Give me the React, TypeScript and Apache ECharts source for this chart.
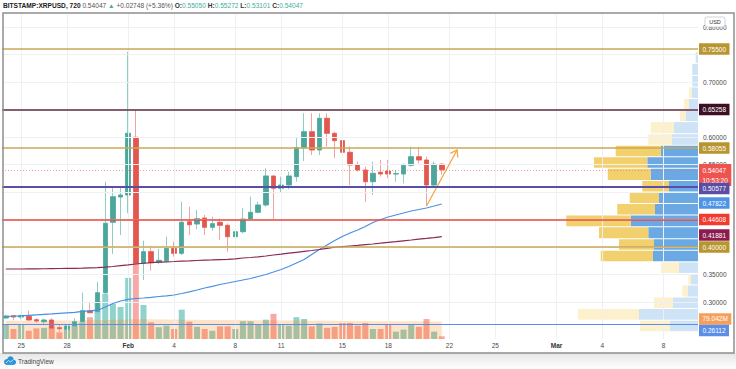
import React, { useEffect, useRef } from "react";
import * as echarts from "echarts";

const FONT = "Liberation Sans, Arial, sans-serif";

// ---- time slots (12h candles) ----
const START_UTC = Date.UTC(2021, 0, 24, 0, 0);
const SLOT_COUNT = 91;
const pad2 = (n: number) => String(n).padStart(2, "0");
const categories: string[] = [];
for (let i = 0; i < SLOT_COUNT; i++) {
  const d = new Date(START_UTC + i * 12 * 3600 * 1000);
  categories.push(`${d.getUTCFullYear()}-${pad2(d.getUTCMonth() + 1)}-${pad2(d.getUTCDate())} ${pad2(d.getUTCHours())}:00`);
}

const xTickDates = ["2021-01-25 00:00", "2021-01-28 00:00", "2021-02-01 00:00", "2021-02-04 00:00", "2021-02-08 00:00", "2021-02-11 00:00", "2021-02-15 00:00", "2021-02-18 00:00", "2021-02-22 00:00", "2021-02-25 00:00", "2021-03-01 00:00", "2021-03-04 00:00", "2021-03-08 00:00"];
const xTickLabels = ["25", "28", "Feb", "4", "8", "11", "15", "18", "22", "25", "Mar", "4", "8"];

const priceTicks = [0.3, 0.35, 0.4, 0.45, 0.5, 0.55, 0.6, 0.65, 0.7, 0.75, 0.8];

// ---- OHLC ----
const opens = [0.2709, 0.2751, 0.2727, 0.2740, 0.2678, 0.2642, 0.2673, 0.2533, 0.2504, 0.2564, 0.2642, 0.2842, 0.2824, 0.3169, 0.4449, 0.4909, 0.4945, 0.5995, 0.3703, 0.3915, 0.3722, 0.3751, 0.3976, 0.3885, 0.4460, 0.4418, 0.4527, 0.4358, 0.4449, 0.4394, 0.4187, 0.4278, 0.4509, 0.4631, 0.4764, 0.5291, 0.5067, 0.5127, 0.5280, 0.5806, 0.6096, 0.5764, 0.6340, 0.6067, 0.5933, 0.5722, 0.5491, 0.5400, 0.5187, 0.5360, 0.5382, 0.5327, 0.5327, 0.5485, 0.5642, 0.5582, 0.5127, 0.5505];
const closes = [0.2745, 0.2727, 0.2751, 0.2673, 0.2655, 0.2673, 0.2522, 0.2515, 0.2564, 0.2642, 0.2842, 0.2805, 0.3169, 0.4431, 0.4915, 0.4945, 0.6067, 0.3703, 0.3915, 0.3715, 0.3758, 0.3976, 0.3885, 0.4449, 0.4405, 0.4515, 0.4358, 0.4424, 0.4394, 0.4187, 0.4278, 0.4509, 0.4631, 0.4764, 0.5291, 0.5067, 0.5127, 0.5291, 0.5806, 0.6096, 0.5764, 0.6340, 0.6067, 0.5933, 0.5722, 0.5491, 0.5400, 0.5187, 0.5340, 0.5327, 0.5327, 0.5333, 0.5485, 0.5642, 0.5582, 0.5127, 0.5504, 0.54047];
const lows = [0.2691, 0.2673, 0.2685, 0.2660, 0.2624, 0.2600, 0.2504, 0.2460, 0.2478, 0.2540, 0.2624, 0.2795, 0.2795, 0.3127, 0.3873, 0.4218, 0.4613, 0.3490, 0.3400, 0.3569, 0.3691, 0.3715, 0.3824, 0.3855, 0.4218, 0.4322, 0.4218, 0.4296, 0.4127, 0.3915, 0.4140, 0.4249, 0.4491, 0.4613, 0.4733, 0.4491, 0.4987, 0.5050, 0.5187, 0.5564, 0.5673, 0.5673, 0.5824, 0.5613, 0.5460, 0.5127, 0.5369, 0.4824, 0.4945, 0.5278, 0.5249, 0.5187, 0.5158, 0.5460, 0.5522, 0.4745, 0.5085, 0.53101];
const highs = [0.2769, 0.2765, 0.2776, 0.2842, 0.2704, 0.2698, 0.2704, 0.2582, 0.2582, 0.2704, 0.3169, 0.3005, 0.3369, 0.5187, 0.5085, 0.5096, 0.7550, 0.6490, 0.4115, 0.4024, 0.3964, 0.4187, 0.4096, 0.4824, 0.4733, 0.4673, 0.4582, 0.4551, 0.4522, 0.4431, 0.4340, 0.4704, 0.4915, 0.4824, 0.5431, 0.5300, 0.5278, 0.5369, 0.5987, 0.6431, 0.6431, 0.6431, 0.6431, 0.6096, 0.5976, 0.5824, 0.5551, 0.5460, 0.5551, 0.5582, 0.5582, 0.5400, 0.5522, 0.5824, 0.5813, 0.5642, 0.5551, 0.55272];

// ---- volume (millions) ----
const volumes = [63, 45, 67, 37, 48, 50, 60, 30, 53, 60, 75, 98, 171, 203, 158, 144, 275, 351, 153, 75, 53, 60, 45, 132, 78, 55, 45, 37, 57, 57, 45, 80, 80, 64, 87, 113, 63, 60, 98, 90, 57, 70, 50, 55, 72, 72, 60, 72, 45, 45, 64, 33, 42, 67, 55, 90, 33, 12];
const volumeMA = [82, 82, 82, 82, 82, 83, 83, 83, 83, 83, 84, 84, 85, 86, 87, 87, 88, 89, 89, 89, 88, 88, 88, 87, 87, 87, 86, 86, 86, 85, 85, 85, 84, 84, 84, 84, 83, 83, 83, 83, 82, 82, 82, 82, 81, 81, 81, 81, 80, 80, 80, 80, 80, 80, 79.5, 79.3, 79.1, 79.042];

// ---- moving averages ----
const maBlue = [0.2736, 0.2742, 0.2749, 0.2758, 0.2767, 0.2776, 0.2785, 0.2795, 0.2804, 0.2813, 0.2831, 0.2840, 0.2851, 0.2909, 0.2973, 0.3018, 0.3049, 0.3064, 0.3073, 0.3085, 0.3100, 0.3113, 0.3127, 0.3155, 0.3185, 0.3218, 0.3255, 0.3285, 0.3318, 0.3345, 0.3373, 0.3400, 0.3427, 0.3464, 0.3500, 0.3545, 0.3591, 0.3645, 0.3709, 0.3773, 0.3864, 0.3955, 0.4036, 0.4118, 0.4191, 0.4255, 0.4309, 0.4373, 0.4445, 0.4500, 0.4545, 0.4582, 0.4618, 0.4655, 0.4682, 0.4709, 0.4745, 0.47822];
const maMaroon = [0.3600, 0.3600, 0.3600, 0.3602, 0.3604, 0.3605, 0.3607, 0.3609, 0.3611, 0.3613, 0.3616, 0.3620, 0.3624, 0.3633, 0.3645, 0.3662, 0.3676, 0.3691, 0.3705, 0.3716, 0.3724, 0.3731, 0.3736, 0.3744, 0.3749, 0.3755, 0.3760, 0.3765, 0.3771, 0.3776, 0.3785, 0.3800, 0.3809, 0.3822, 0.3836, 0.3855, 0.3869, 0.3887, 0.3904, 0.3920, 0.3936, 0.3955, 0.3976, 0.3995, 0.4007, 0.4018, 0.4029, 0.4042, 0.4055, 0.4069, 0.4084, 0.4098, 0.4113, 0.4127, 0.4142, 0.4156, 0.4171, 0.41881];

// ---- horizontal levels ----
const levelValues = [0.755, 0.65258, 0.58055, 0.50577, 0.44608, 0.4];
const levelLineColors = ["#c9a853", "#5e2b43", "#c9a853", "#5a4ea6", "#e8483f", "#c9a853"];
const levelTagColors = ["#b8952f", "#3d0f25", "#b8952f", "#5b4ca4", "#f23b2f", "#b8952f"];
const levelWidths = [1.5, 1.5, 1.5, 2, 1.5, 1.5];
const levelTagShift = [0, 0, 0, 2, 0, 0];

const lastPrice = 0.54047;
const countdown = "10:53:20";
const baseLine = 0.26112;
const volumeMALabel = "79.042M";

// ---- visible range volume profile ----
const vpRowTop = [0.755, 0.734, 0.712, 0.691, 0.670, 0.649, 0.628, 0.606, 0.585, 0.564, 0.543, 0.521, 0.500, 0.479, 0.458, 0.437, 0.415, 0.394, 0.373, 0.352, 0.331, 0.309, 0.288, 0.267];
const vpRowBottom = [0.734, 0.712, 0.691, 0.670, 0.649, 0.628, 0.606, 0.585, 0.564, 0.543, 0.521, 0.500, 0.479, 0.458, 0.437, 0.415, 0.394, 0.373, 0.352, 0.331, 0.309, 0.288, 0.267, 0.246];
const vpUp = [2.3, 5.7, 5.7, 6.3, 9, 12.3, 24, 26.3, 37.3, 50.7, 47.3, 29, 39, 43, 67.3, 49.7, 44, 45, 19, 7, 10.3, 25, 59, 28.3];
const vpDown = [0, 0, 0, 2.7, 5, 5.7, 23.3, 23.4, 45, 53.3, 43, 26.7, 29.3, 37.7, 64.4, 49.3, 35, 52.3, 18, 2.7, 5.4, 19, 61, 29.7];
const vpValueArea = [0, 0, 0, 0, 0, 0, 0, 0, 1, 1, 1, 1, 1, 1, 1, 1, 1, 1, 0, 0, 0, 0, 0, 0];

// ---- drawing: arrow ----
const arrowFrom = [55, 0.4745];
const arrowTo = [59, 0.5764];

const PMIN = 0.23273;
const PMAX = 0.82364;
const UP = "#4ba79b";
const DOWN = "#e2574f";
const CLEAR = "rgba(0,0,0,0)";

const tagLabel = (text: string, bg: string, dy = 0) => ({
  show: true,
  position: "end",
  formatter: text,
  color: "#ffffff",
  backgroundColor: bg,
  padding: [2, 3.5, 1.5, 3.5],
  lineHeight: 8,
  fontSize: 6.5,
  fontFamily: FONT,
  distance: 1,
  offset: [0, dy],
});

export default function App() {
  const ref = useRef<HTMLDivElement>(null);
  useEffect(() => {
    if (!ref.current) return;
    const chart = echarts.init(ref.current, undefined, { renderer: "svg" });
    const labelMap: Record<string, string> = {};
    xTickDates.forEach((d, i) => (labelMap[d] = xTickLabels[i]));

    const wickData = opens.map((o, i) => [o, closes[i], lows[i], highs[i]]);
    const bodyData = opens.map((o, i) => [o, closes[i], Math.min(o, closes[i]), Math.max(o, closes[i])]);
    const volData = volumes.map((v, i) => ({
      value: v,
      itemStyle: { color: closes[i] >= opens[i] ? "rgba(38,166,154,0.5)" : "rgba(239,83,80,0.5)" },
    }));
    const vpData = vpRowTop.map((t, i) => [t, vpRowBottom[i], vpUp[i], vpDown[i], vpValueArea[i]]);

    // price-axis labels that a coloured tag covers are hidden, as on the price scale
    const tagPrices = [...levelValues, lastPrice, maBlue[maBlue.length - 1], maMaroon[maMaroon.length - 1]];
    const shownPriceLabels = priceTicks.filter((v) => !tagPrices.some((t) => Math.abs(t - v) < 0.0125 && !(v === 0.55)));

    const levelLines = levelValues.map((v, i) => ({
      yAxis: v,
      lineStyle: { color: levelLineColors[i], width: levelWidths[i], type: "solid" },
      label: tagLabel(v.toFixed(5), levelTagColors[i], levelTagShift[i]),
    }));

    const option: any = {
      animation: false,
      textStyle: { fontFamily: FONT },
      grid: [
        { left: 2, right: 38, top: 14, bottom: 30 },
        { left: 2, right: 38, top: 239, bottom: 30 },
        { left: 398, right: 38, top: 14, bottom: 30 },
      ],
      xAxis: [
        {
          gridIndex: 0,
          type: "category",
          data: categories,
          boundaryGap: true,
          axisLine: { show: false },
          axisTick: { show: false },
          splitLine: { show: false },
          axisLabel: {
            interval: (_idx: number, val: string) => val in labelMap,
            formatter: (val: string) => {
              const t = labelMap[val] || "";
              return /[A-Za-z]/.test(t) ? `{b|${t}}` : t;
            },
            fontSize: 6.5,
            color: "#4a4a4a",
            margin: 3,
            rich: { b: { fontWeight: "bold", fontSize: 6.5, color: "#333333" } },
          },
        },
        { gridIndex: 1, type: "category", data: categories, boundaryGap: true, show: false },
        { gridIndex: 2, type: "value", inverse: true, min: 0, max: 300, show: false },
      ],
      yAxis: [
        {
          gridIndex: 0,
          type: "value",
          position: "right",
          min: PMIN,
          max: PMAX,
          axisLine: { show: false },
          axisTick: { show: false },
          splitLine: { show: false },
          axisLabel: {
            customValues: shownPriceLabels,
            formatter: (v: number) => v.toFixed(5),
            fontSize: 6.5,
            color: "#4a4a4a",
            margin: 5,
          },
        },
        { gridIndex: 1, type: "value", min: 0, max: 450, show: false },
        { gridIndex: 2, type: "value", min: PMIN, max: PMAX, show: false },
      ],
      series: [
        {
          name: "grid",
          type: "line",
          data: [],
          z: 0,
          markLine: {
            silent: true,
            symbol: ["none", "none"],
            label: { show: false },
            lineStyle: { color: "#eef0f4", width: 1, type: "solid" },
            data: [
              ...priceTicks.map((v) => ({ yAxis: v })),
              ...xTickDates.map((d) => ({ xAxis: d })),
            ],
          },
        },
        {
          name: "volprofile",
          type: "custom",
          xAxisIndex: 2,
          yAxisIndex: 2,
          z: 1,
          silent: true,
          data: vpData,
          renderItem: (_p: any, api: any) => {
            const top = api.value(0);
            const bot = api.value(1);
            const up = api.value(2);
            const dn = api.value(3);
            const va = api.value(4);
            const p0 = api.coord([0, top]);
            const pb = api.coord([0, bot]);
            const pu = api.coord([up, top]);
            const pd = api.coord([up + dn, top]);
            const y = p0[1] + 0.5;
            const h = Math.max(pb[1] - p0[1] - 1, 0.5);
            const blue = va ? "#6aa9e3" : "#cfe3f7";
            const yel = va ? "#f2d06e" : "#fdf0cc";
            return {
              type: "group",
              children: [
                { type: "rect", shape: { x: pu[0], y, width: p0[0] - pu[0], height: h }, style: { fill: blue } },
                { type: "rect", shape: { x: pd[0], y, width: pu[0] - pd[0], height: h }, style: { fill: yel } },
              ],
            };
          },
        },
        {
          name: "volume",
          type: "bar",
          xAxisIndex: 1,
          yAxisIndex: 1,
          data: volData,
          barWidth: 6,
          z: 1,
        },
        {
          name: "volumeMA",
          type: "line",
          xAxisIndex: 1,
          yAxisIndex: 1,
          data: volumeMA,
          symbol: "none",
          lineStyle: { width: 0 },
          areaStyle: { color: "rgba(245,124,0,0.3)" },
          z: 2,
          markLine: {
            silent: true,
            symbol: ["none", "none"],
            lineStyle: { color: CLEAR, width: 0 },
            data: [{ yAxis: volumeMA[volumeMA.length - 1], label: tagLabel(volumeMALabel, "#f5a05a", -2.5) }],
          },
        },
        {
          name: "wicks",
          type: "candlestick",
          data: wickData,
          barWidth: 5,
          z: 3,
          itemStyle: { color: "#8fcdc5", color0: "#f2a4a0", borderColor: "#8fcdc5", borderColor0: "#f2a4a0", borderWidth: 1 },
        },
        {
          name: "bodies",
          type: "candlestick",
          data: bodyData,
          barWidth: 5,
          z: 4,
          itemStyle: { color: UP, color0: DOWN, borderColor: UP, borderColor0: DOWN, borderWidth: 0.5 },
          markLine: {
            silent: true,
            symbol: ["none", "none"],
            z: 10,
            data: [
              {
                yAxis: lastPrice,
                lineStyle: { color: "rgba(239,100,96,0.75)", width: 0.8, type: [1, 2] },
                label: {
                  ...tagLabel(`${lastPrice.toFixed(5)}\n${countdown}`, "#ef5350", 5),
                  lineHeight: 10,
                  padding: [1.5, 3.5, 0.5, 3.5],
                },
              },
              ...levelLines,
              {
                yAxis: baseLine,
                lineStyle: { color: "#5b8ee6", width: 1.2, type: "solid" },
                label: tagLabel(baseLine.toFixed(5), "#5b8ee6", 6.5),
              },
              {
                yAxis: maBlue[maBlue.length - 1],
                lineStyle: { color: CLEAR, width: 0 },
                label: tagLabel(maBlue[maBlue.length - 1].toFixed(5), "#4d94e6"),
              },
              {
                yAxis: maMaroon[maMaroon.length - 1],
                lineStyle: { color: CLEAR, width: 0 },
                label: tagLabel(maMaroon[maMaroon.length - 1].toFixed(5), "#8b1c4f", -1),
              },
            ],
          },
        },
        {
          name: "MA fast",
          type: "line",
          data: maBlue,
          symbol: "none",
          z: 5,
          lineStyle: { color: "#4a90e2", width: 1.2 },
        },
        {
          name: "MA slow",
          type: "line",
          data: maMaroon,
          symbol: "none",
          z: 5,
          lineStyle: { color: "#8c2853", width: 1.2 },
        },
        {
          name: "arrow",
          type: "custom",
          z: 6,
          silent: true,
          data: [[arrowFrom[0], arrowFrom[1], arrowTo[0], arrowTo[1]]],
          renderItem: (_p: any, api: any) => {
            const a = api.coord([api.value(0), api.value(1)]);
            const b = api.coord([api.value(2), api.value(3)]);
            const ang = Math.atan2(b[1] - a[1], b[0] - a[0]);
            const L = 7.5;
            const l = [b[0] - L * Math.cos(ang - 0.6), b[1] - L * Math.sin(ang - 0.6)];
            const r = [b[0] - L * Math.cos(ang + 0.6), b[1] - L * Math.sin(ang + 0.6)];
            const st = { stroke: "#f7a23c", lineWidth: 1.2, fill: "none" };
            return {
              type: "group",
              children: [
                { type: "line", shape: { x1: a[0], y1: a[1], x2: b[0], y2: b[1] }, style: st },
                { type: "polyline", shape: { points: [l, b, r] }, style: st },
              ],
            };
          },
        },
      ],
      graphic: [
        {
          type: "rect",
          z: 100,
          silent: true,
          shape: { x: 0, y: 353, width: 736, height: 16 },
          style: {
            fill: new echarts.graphic.LinearGradient(0, 0, 0, 1, [
              { offset: 0, color: "rgba(0,0,0,0.10)" },
              { offset: 1, color: "rgba(0,0,0,0)" },
            ]),
          },
        },
        {
          type: "rect",
          z: 100,
          silent: true,
          shape: { x: 3, y: 13, width: 731, height: 340 },
          style: { fill: "none", stroke: "#8f8f8f", lineWidth: 1.5 },
        },
        {
          type: "text",
          z: 100,
          left: 3,
          top: 2,
          style: {
            text: "{s|BITSTAMP:XRPUSD, 720} {v|0.54047} {g|▲} {v|+0.02748 (+5.36%)} {k|O:}{g|0.55050} {k|H:}{g|0.55272} {k|L:}{g|0.53101} {k|C:}{g|0.54047}",
            font: `6.6px ${FONT}`,
            rich: {
              s: { fontWeight: "bold", fontSize: 6.6, fill: "#222222", fontFamily: FONT },
              v: { fontSize: 6.6, fill: "#555555", fontFamily: FONT },
              g: { fontSize: 6.6, fill: "#3fae9e", fontFamily: FONT },
              k: { fontSize: 6.6, fill: "#333333", fontWeight: "bold", fontFamily: FONT },
            },
          },
        },
        {
          type: "rect",
          z: 100,
          shape: { x: 705, y: 17, width: 20, height: 10, r: 2 },
          style: { fill: "#ffffff", stroke: "#c8c8c8", lineWidth: 0.8 },
        },
        {
          type: "text",
          z: 101,
          x: 715,
          y: 22,
          style: { text: "USD", fontSize: 5.5, fontFamily: FONT, fill: "#333333", align: "center", verticalAlign: "middle" },
        },
        {
          type: "group",
          z: 100,
          children: [
            { type: "circle", shape: { cx: 7, cy: 362, r: 3 }, style: { fill: "#2f9be6" } },
            { type: "circle", shape: { cx: 10.5, cy: 359.5, r: 3.3 }, style: { fill: "#2f9be6" } },
            { type: "circle", shape: { cx: 13.5, cy: 362.3, r: 2.6 }, style: { fill: "#2f9be6" } },
            { type: "rect", shape: { x: 7, y: 361.5, width: 6.5, height: 3.4 }, style: { fill: "#2f9be6" } },
            { type: "polyline", shape: { points: [[6, 363], [8.5, 360.5], [10.5, 362], [13.5, 359.5]] }, style: { stroke: "#ffffff", lineWidth: 0.8, fill: "none" } },
          ],
        },
        {
          type: "text",
          z: 100,
          x: 18,
          y: 361.5,
          style: { text: "TradingView", fontSize: 6.5, fontFamily: FONT, fill: "#444444", verticalAlign: "middle" },
        },
      ],
    };
    chart.setOption(option);
    return () => chart.dispose();
  }, []);
  return <div ref={ref} style={{ position: "fixed", left: 0, top: 0, width: 736, height: 369, background: "#ffffff" }} />;
}
